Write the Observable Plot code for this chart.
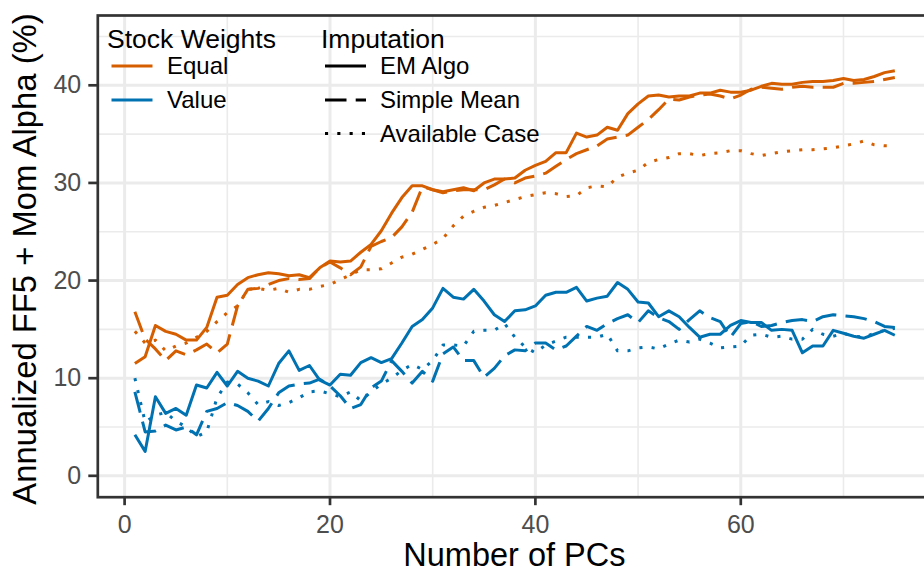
<!DOCTYPE html>
<html>
<head>
<meta charset="utf-8">
<script src="https://cdn.jsdelivr.net/npm/d3@7"></script>
<script src="https://cdn.jsdelivr.net/npm/@observablehq/plot@0.6"></script>
<style>
  body { margin: 0; background: #fff; }
  #chart svg { display: block; }
</style>
</head>
<body>
<div id="chart"></div>
<script>
// ---------------- data ----------------
const pcs = d3.range(1, 76);

const equalEM = [
  11.5, 12.2, 15.4, 14.8, 14.5, 13.9, 13.9, 15.2, 18.3, 18.5,
  19.6, 20.3, 20.6, 20.8, 20.7, 20.5, 20.6, 20.3, 21.3, 22.0,
  21.9, 22.0, 22.9, 23.7, 25.1, 26.9, 28.5, 29.7, 29.7, 29.3,
  29.1, 29.3, 29.5, 29.2, 30.0, 30.4, 30.4, 30.5, 31.3, 31.8,
  32.2, 33.1, 33.1, 35.1, 34.7, 34.9, 35.7, 35.4, 37.1, 38.1,
  38.9, 39.0, 38.8, 38.9, 38.9, 39.2, 39.2, 39.5, 39.3, 39.3,
  39.5, 39.9, 40.2, 40.1, 40.1, 40.3, 40.4, 40.4, 40.5, 40.7,
  40.5, 40.6, 40.9, 41.3, 41.5
];
const equalSimpleMean = [
  16.8, 14.0, 13.0, 11.8, 12.8, 12.4, 12.9, 13.5, 12.6, 13.5,
  17.4, 19.1, 19.2, 19.6, 20.0, 20.2, 20.1, 20.2, 21.3, 21.9,
  21.3, 20.6, 21.4, 23.5, 24.0, 24.4, 25.5, 27.0, 29.6, 29.3,
  29.0, 29.2, 29.3, 29.3, 29.3, 29.8, 30.4, 30.0, 30.5, 30.7,
  31.0, 31.7, 32.4, 33.0, 33.4, 33.8, 34.5, 34.7, 34.9, 35.7,
  36.5, 37.5, 38.6, 38.5, 38.8, 39.0, 39.1, 38.9, 38.6, 39.0,
  39.6, 39.8, 39.7, 39.6, 39.8, 39.9, 39.8, 39.8, 39.8, 40.2,
  40.2, 40.3, 40.4, 40.6, 40.8
];
const equalAvailable = [
  14.8, 13.6, 13.9, 12.8, 13.3, 13.6, 14.2, 14.8, 15.8, 16.7,
  17.4, 19.1, 19.2, 19.0, 19.2, 18.8, 19.1, 19.1, 19.4, 19.6,
  20.1, 20.6, 21.1, 21.1, 21.2, 21.8, 22.4, 22.7, 23.2, 23.7,
  24.3, 25.6, 26.6, 27.1, 27.5, 27.7, 28.0, 28.3, 28.6, 28.8,
  29.0, 28.9, 28.6, 28.7, 29.5, 29.7, 29.6, 30.6, 31.0, 31.3,
  32.1, 32.4, 32.6, 33.0, 33.0, 32.8, 33.0, 33.1, 33.3, 33.3,
  33.0, 32.8, 33.0, 33.2, 33.3, 33.4, 33.4, 33.5, 33.6, 33.8,
  34.0, 34.3, 33.9, 33.8, 33.8
];
const valueEM = [
  4.2, 2.5, 8.1, 6.4, 6.9, 6.2, 9.3, 9.0, 10.6, 9.2,
  10.7, 10.0, 9.7, 9.2, 11.5, 12.8, 10.8, 11.3, 9.8, 9.3,
  10.4, 10.3, 11.6, 12.1, 11.6, 12.0, 13.6, 15.3, 16.0, 17.2,
  19.2, 18.3, 18.1, 19.1, 17.9, 16.5, 15.8, 16.9, 17.0, 17.4,
  18.5, 18.8, 18.8, 19.3, 17.9, 18.2, 18.4, 19.8, 19.1, 17.8,
  17.7, 16.3, 16.9, 16.3, 15.2, 14.2, 14.5, 14.5, 15.4, 15.9,
  15.7, 15.7, 14.9, 15.0, 14.9, 12.6, 13.3, 13.3, 14.9, 14.6,
  14.3, 14.1, 14.5, 14.9, 14.4
];
const valueSimpleMean = [
  8.6, 4.5, 4.6, 5.2, 4.7, 5.0, 4.2, 6.6, 6.9, 7.5,
  7.2, 6.6, 5.6, 6.9, 8.5, 9.2, 9.4, 9.5, 9.9, 9.2,
  8.2, 6.9, 7.3, 9.0, 9.7, 11.8, 10.7, 9.5, 10.7, 9.7,
  12.5, 13.2, 11.8, 11.8, 10.1, 11.0, 12.3, 12.9, 12.8, 13.6,
  13.6, 12.9, 13.3, 14.3, 15.3, 14.9, 15.6, 16.1, 16.5, 15.7,
  16.9, 16.2, 15.8, 15.0, 16.0, 16.9, 16.2, 15.8, 14.2, 15.6,
  15.8, 15.3, 15.4, 15.7, 15.9, 16.0, 15.8, 16.3, 16.5, 16.4,
  16.3, 16.1, 15.8, 15.3, 15.2
];
const valueAvailable = [
  10.0, 5.5, 6.2, 6.5, 5.6, 5.0, 4.0, 4.5, 8.0, 9.6,
  9.4, 8.5, 7.3, 7.6, 7.2, 7.5, 8.0, 8.6, 8.7, 8.4,
  8.1, 8.6, 7.7, 8.6, 9.4, 10.0, 10.8, 11.4, 10.9, 11.8,
  13.4, 13.4, 13.3, 14.8, 14.9, 14.9, 15.6, 14.2, 13.2, 12.6,
  13.4, 13.8, 14.2, 14.2, 14.2, 14.2, 14.5, 12.8, 12.8, 13.1,
  13.2, 13.0, 13.5, 13.9, 13.7, 14.0, 13.6, 13.1, 13.2, 13.3,
  14.4, 14.5, 14.2, 14.3, 14.0, 14.0, 15.0, 14.5, 14.3, 14.6,
  14.3, 14.2, 14.6, 14.9, 15.1
];

const weightLevels = ["Equal", "Value"];
const imputationLevels = ["EM Algo", "Simple Mean", "Available Case"];
const xTicks = [0, 20, 40, 60];
const xMinorTicks = [10, 30, 50, 70];
const yTicks = [0, 10, 20, 30, 40];
const yMinorTicks = [5, 15, 25, 35, 45];

const seriesList = [
  { weights: "Equal", imputation: "EM Algo", values: equalEM },
  { weights: "Equal", imputation: "Simple Mean", values: equalSimpleMean },
  { weights: "Equal", imputation: "Available Case", values: equalAvailable },
  { weights: "Value", imputation: "EM Algo", values: valueEM },
  { weights: "Value", imputation: "Simple Mean", values: valueSimpleMean },
  { weights: "Value", imputation: "Available Case", values: valueAvailable }
];

// ---------------- styling ----------------
const FONT = '"Liberation Sans", Arial, Helvetica, sans-serif';
const weightColors = ["#D55E00", "#0072B2"];
const dashFor = { "EM Algo": undefined, "Simple Mean": "21.5,9.2", "Available Case": "3.1,9.2" };
const LINE_W = 3;

const rows = seriesList.flatMap(s =>
  s.values.map((v, i) => ({ pc: pcs[i], alpha: v, weights: s.weights, imputation: s.imputation }))
);

const gridStyle = { stroke: "#EBEBEB", strokeOpacity: 1 };

const chart = Plot.plot({
  width: 924,
  height: 573,
  marginLeft: 97.3,
  marginRight: -7.4,
  marginTop: 15,
  marginBottom: 76.3,
  style: { fontFamily: FONT, background: "#fff", overflow: "hidden" },
  x: { domain: [-2.61, 78.61] },
  y: { domain: [-2.19, 47.15] },
  color: { domain: weightLevels, range: weightColors },
  marks: [
    Plot.gridX(xMinorTicks, { ...gridStyle, strokeWidth: 1.6 }),
    Plot.gridY(yMinorTicks, { ...gridStyle, strokeWidth: 1.6 }),
    Plot.gridX(xTicks, { ...gridStyle, strokeWidth: 3 }),
    Plot.gridY(yTicks, { ...gridStyle, strokeWidth: 3 }),
    ...imputationLevels.map(imp =>
      Plot.line(rows.filter(d => d.imputation === imp), {
        x: "pc", y: "alpha", z: "weights", stroke: "weights",
        strokeWidth: LINE_W, strokeDasharray: dashFor[imp],
        strokeLinecap: "butt", strokeLinejoin: "round"
      })
    ),
    Plot.frame({ stroke: "#333333", strokeWidth: 2.7 }),
    Plot.axisX(xTicks, {
      anchor: "bottom", tickSize: 8.5, tickPadding: 10, fontSize: 25,
      stroke: "#333333", strokeWidth: 2.7, label: null
    }),
    Plot.axisY(yTicks, {
      anchor: "left", tickSize: 9, tickPadding: 7.6, fontSize: 25,
      stroke: "#333333", strokeWidth: 2.7, label: null
    })
  ]
});

document.getElementById("chart").appendChild(chart);

const svg = d3.select(chart);
svg.selectAll('g[aria-label$="tick label"]').attr("fill", "#4D4D4D");

// axis titles
svg.append("text")
  .attr("x", 514.4).attr("y", 566)
  .attr("text-anchor", "middle")
  .attr("font-family", FONT).attr("font-size", 32.5).attr("fill", "#000")
  .text("Number of PCs");
svg.append("text")
  .attr("transform", "translate(36,259) rotate(-90)")
  .attr("text-anchor", "middle")
  .attr("font-family", FONT).attr("font-size", 32.8).attr("fill", "#000")
  .text("Annualized FF5 + Mom Alpha (%)");

// legends
const leg = svg.append("g")
  .attr("font-family", FONT).attr("fill", "#000").attr("text-anchor", "start");
const rowY = [66, 100, 133.5];

leg.append("text").attr("x", 107).attr("y", 48).attr("font-size", 26.5).text("Stock Weights");
weightLevels.forEach((w, i) => {
  leg.append("line")
    .attr("x1", 111.5).attr("x2", 152.5).attr("y1", rowY[i]).attr("y2", rowY[i])
    .attr("stroke", weightColors[i]).attr("stroke-width", LINE_W);
  leg.append("text").attr("x", 167).attr("y", rowY[i]).attr("dy", "0.35em")
    .attr("font-size", 24).text(w);
});

leg.append("text").attr("x", 321).attr("y", 48).attr("font-size", 26.5).text("Imputation");
imputationLevels.forEach((imp, i) => {
  const ln = leg.append("line")
    .attr("x1", 325).attr("x2", 366).attr("y1", rowY[i]).attr("y2", rowY[i])
    .attr("stroke", "#000").attr("stroke-width", LINE_W).attr("stroke-linecap", "butt");
  if (dashFor[imp]) ln.attr("stroke-dasharray", dashFor[imp]);
  leg.append("text").attr("x", 380).attr("y", rowY[i]).attr("dy", "0.35em")
    .attr("font-size", 24).text(imp);
});
</script>
</body>
</html>
